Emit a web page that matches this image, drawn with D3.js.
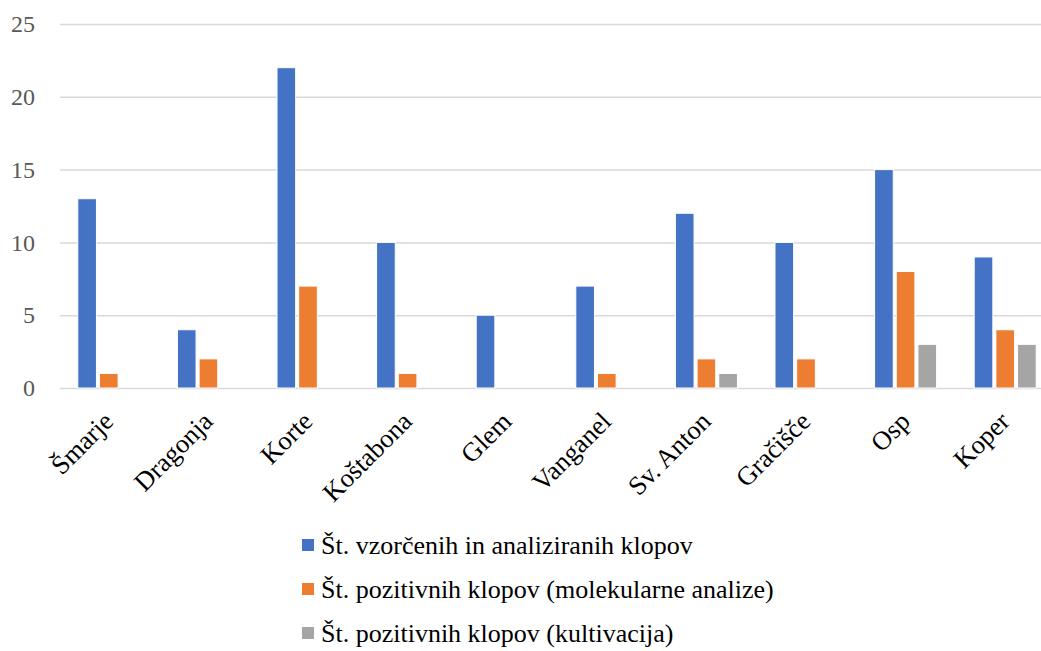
<!DOCTYPE html>
<html><head><meta charset="utf-8">
<script src="https://cdn.jsdelivr.net/npm/d3@7/dist/d3.min.js"></script>
<style>body{margin:0;background:#fff;} svg{display:block;}</style>
</head><body>
<svg id="c" width="1041" height="651"></svg>
<script>
const categories = ["Šmarje","Dragonja","Korte","Koštabona","Glem","Vanganel","Sv. Anton","Gračišče","Osp","Koper"];
const seriesNames = ["Št. vzorčenih in analiziranih klopov","Št. pozitivnih klopov (molekularne analize)","Št. pozitivnih klopov (kultivacija)"];
const sampled = [13,4,22,10,5,7,12,10,15,9];
const molecular = [1,2,7,1,0,1,2,2,8,4];
const cultivation = [0,0,0,0,0,0,1,0,3,3];
const yTicks = [0,5,10,15,20,25];
const colors = ["#4472C4","#ED7D31","#A5A5A5"];

const series = [sampled, molecular, cultivation];
const svg = d3.select("#c");
const font = "'Liberation Serif','Times New Roman',serif";

const x0 = d3.scaleBand().domain(categories).range([59, 1055]).padding(0);
const bw = x0.bandwidth();
const x1 = d3.scaleBand().domain([0,1,2]).range([bw/2-31, bw/2+31]).paddingInner(0.14);
const y = d3.scaleLinear().domain([0,25]).range([388, 24]);

// gridlines
const yAxis = d3.axisLeft(y).tickValues(yTicks).tickSize(-(1055-60)).tickPadding(25);
const gy = svg.append("g").attr("transform","translate(60,0)").call(yAxis);
gy.select(".domain").remove();
gy.selectAll(".tick line").attr("stroke","#d9d9d9").attr("stroke-width",1.5);
gy.selectAll(".tick text").attr("font-family",font).attr("font-size",24).attr("fill","#595959");

// bars
const groups = svg.append("g").selectAll("g").data(categories).join("g")
  .attr("transform", d => `translate(${x0(d)},0)`);
groups.selectAll("rect").data((d,i) => series.map((s,k) => ({k, v:s[i]})).filter(e => e.v > 0))
  .join("rect")
  .attr("x", e => x1(e.k))
  .attr("width", x1.bandwidth())
  .attr("y", e => y(e.v))
  .attr("height", e => y(0) - y(e.v))
  .attr("fill", e => colors[e.k])
  .attr("stroke","#fff").attr("stroke-width",1);

// x labels
const xAxis = d3.axisBottom(x0).tickSize(0).tickPadding(0);
const gx = svg.append("g").attr("transform","translate(0,388)").call(xAxis);
gx.select(".domain").remove();
gx.selectAll(".tick text")
  .attr("font-family",font).attr("font-size",26.5).attr("fill","#000")
  .attr("text-anchor","end")
  .attr("dy",null).attr("y",0)
  .attr("transform","translate(6,35) rotate(-45)");

// legend
const lg = svg.append("g").selectAll("g").data(seriesNames).join("g")
  .attr("transform",(d,i)=>`translate(302,${545 + i*44})`);
lg.append("rect").attr("x",0).attr("y",-6).attr("width",12).attr("height",12)
  .attr("fill",(d,i)=>colors[i]);
lg.append("text").attr("x",19).attr("y",0).attr("dy","0.35em")
  .attr("font-family",font).attr("font-size",26).attr("fill","#000").text(d=>d);
</script>
</body></html>
